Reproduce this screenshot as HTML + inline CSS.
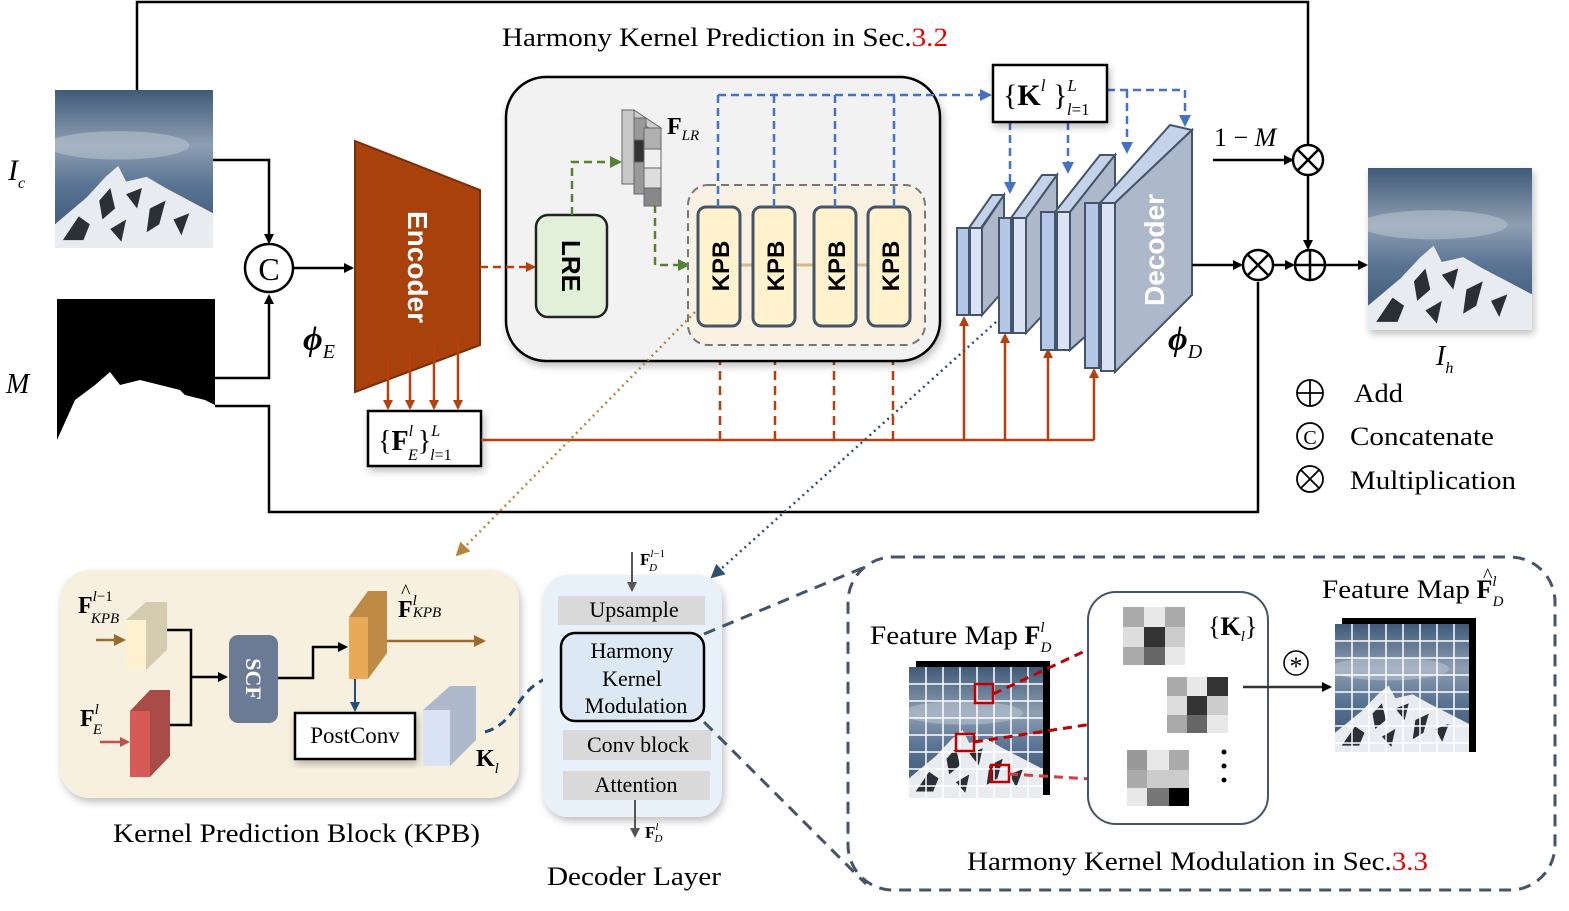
<!DOCTYPE html>
<html><head><meta charset="utf-8"><style>
html,body{margin:0;padding:0;background:#fff}
svg{display:block}
text{font-family:"Liberation Serif",serif;fill:#000}
.s{font-family:"Liberation Sans",sans-serif;font-weight:bold}
</style></head><body>
<svg width="1569" height="911" viewBox="0 0 1569 911" xmlns="http://www.w3.org/2000/svg">
<defs>
<marker id="ak" markerWidth="10" markerHeight="10" refX="8" refY="5" orient="auto" markerUnits="userSpaceOnUse"><path d="M0,0 L10,5 L0,10z" fill="#000"/></marker>
<marker id="ao" markerWidth="10" markerHeight="10" refX="8" refY="5" orient="auto" markerUnits="userSpaceOnUse"><path d="M0,0 L10,5 L0,10z" fill="#b5400b"/></marker>
<marker id="ab" markerWidth="12" markerHeight="12" refX="10" refY="6" orient="auto" markerUnits="userSpaceOnUse"><path d="M0,0 L12,6 L0,12z" fill="#4472c4"/></marker>
<marker id="ag" markerWidth="12" markerHeight="12" refX="10" refY="6" orient="auto" markerUnits="userSpaceOnUse"><path d="M0,0 L12,6 L0,12z" fill="#548235"/></marker>
<marker id="ar" markerWidth="12" markerHeight="12" refX="10" refY="6" orient="auto" markerUnits="userSpaceOnUse"><path d="M0,0 L12,6 L0,12z" fill="#c00000"/></marker>
<marker id="ad" markerWidth="14" markerHeight="14" refX="12" refY="7" orient="auto" markerUnits="userSpaceOnUse"><path d="M0,0 L14,7 L0,14z" fill="#2f4f6f"/></marker>
<marker id="at" markerWidth="14" markerHeight="14" refX="12" refY="7" orient="auto" markerUnits="userSpaceOnUse"><path d="M0,0 L14,7 L0,14z" fill="#b8863b"/></marker>
<marker id="an" markerWidth="12" markerHeight="12" refX="10" refY="6" orient="auto" markerUnits="userSpaceOnUse"><path d="M0,0 L12,6 L0,12z" fill="#9c6b2c"/></marker>
<marker id="aw" markerWidth="10" markerHeight="10" refX="8" refY="5" orient="auto" markerUnits="userSpaceOnUse"><path d="M0,0 L10,5 L0,10z" fill="#c0504d"/></marker>
<marker id="al" markerWidth="10" markerHeight="10" refX="8" refY="5" orient="auto" markerUnits="userSpaceOnUse"><path d="M0,0 L10,5 L0,10z" fill="#1f4e79"/></marker>
<marker id="as" markerWidth="10" markerHeight="10" refX="8" refY="5" orient="auto" markerUnits="userSpaceOnUse"><path d="M0,0 L10,5 L0,10z" fill="#555"/></marker>
<linearGradient id="sky" x1="0" y1="0" x2="0" y2="1"><stop offset="0" stop-color="#3f5a78"/><stop offset=".35" stop-color="#8e9fb2"/><stop offset=".6" stop-color="#5a7493"/><stop offset="1" stop-color="#34506f"/></linearGradient>
<symbol id="photo" viewBox="0 0 100 100" preserveAspectRatio="none">
<rect width="100" height="100" fill="url(#sky)"/>
<ellipse cx="40" cy="35" rx="45" ry="9" fill="#b5c1cd" opacity=".6"/>
<path d="M0,100 L0,85 L20,68 L32,55 L40,48 L45,58 L58,55 L70,62 L85,70 L100,78 L100,100z" fill="#e8ecf0"/>
<path d="M5,95 L15,80 L22,85 L18,95z M28,70 L35,62 L38,75 L30,82z M45,66 L55,62 L52,75z M60,75 L70,70 L66,85 L58,90z M75,82 L85,78 L80,92z M35,88 L45,82 L42,96z" fill="#2b2f36"/>
</symbol>
<filter id="sh" x="-10%" y="-10%" width="120%" height="130%"><feDropShadow dx="2" dy="4" stdDeviation="4" flood-color="#000" flood-opacity=".25"/></filter>
</defs>

<polyline points="137,90 137,2 1308,2 1308,145" fill="none" stroke="#000" stroke-width="2.5"/>
<text x="502" y="46" font-size="26" textLength="446" lengthAdjust="spacingAndGlyphs">Harmony Kernel Prediction in Sec.<tspan fill="#e00">3.2</tspan></text>

<use href="#photo" x="55" y="90" width="158" height="158"/>
<rect x="57" y="299" width="158" height="157" fill="#000"/>
<path d="M57,440 L75,400 L95,385 L110,372 L120,385 L140,380 L160,385 L180,390 L185,395 L205,400 L215,405 L215,456 L57,456z" fill="#fff"/>
<text x="8" y="180" font-size="30" font-style="italic">I<tspan font-size="16" dy="8">c</tspan></text>
<text x="6" y="393" font-size="28" font-style="italic">M</text>

<polyline points="213,160 269,160 269,242" fill="none" stroke="#000" stroke-width="2.5" marker-end="url(#ak)"/>
<polyline points="215,378 269,378 269,296" fill="none" stroke="#000" stroke-width="2.5" marker-end="url(#ak)"/>
<polyline points="215,406 269,406 269,512 1258,512 1258,282" fill="none" stroke="#000" stroke-width="2.5"/>
<circle cx="269" cy="268" r="24" fill="#fff" stroke="#000" stroke-width="2.5"/>
<text x="269" y="280" font-size="32" text-anchor="middle">C</text>
<line x1="293" y1="268" x2="352" y2="268" stroke="#000" stroke-width="2.5" marker-end="url(#ak)"/>

<polygon points="355,141 480,190 480,345 355,392" fill="#a9410d" stroke="#7a2e08" stroke-width="2"/>
<text class="s" transform="translate(408,267) rotate(90)" font-size="28" text-anchor="middle" style="fill:#fff">Encoder</text>
<text x="303" y="350" font-size="34" font-style="italic" font-weight="bold">ϕ<tspan font-size="20" font-weight="normal" dy="8">E</tspan></text>
<g stroke="#b5400b" stroke-width="2.5" marker-end="url(#ao)">
<line x1="388" y1="360" x2="388" y2="408"/><line x1="410" y1="352" x2="410" y2="408"/><line x1="434" y1="345" x2="434" y2="408"/><line x1="458" y1="340" x2="458" y2="408"/>
</g>
<rect x="368" y="411" width="113" height="55" fill="#fff" stroke="#000" stroke-width="2.5" filter="url(#sh)"/>
<text x="378" y="450" font-size="28">{<tspan font-weight="bold">F</tspan><tspan font-size="16" font-style="italic" dy="-14">l</tspan><tspan font-size="16" font-style="italic" dx="-5" dy="24">E</tspan><tspan dy="-10">}</tspan><tspan font-size="16" font-style="italic" dy="-14">L</tspan><tspan font-size="16" font-style="italic" dx="-10" dy="24">l</tspan><tspan font-size="16" dy="0">=1</tspan></text>

<polyline points="481,440 1094,440" fill="none" stroke="#b5400b" stroke-width="2.5"/>
<g stroke="#b5400b" stroke-width="2.5" stroke-dasharray="9,6" marker-end="url(#ao)">
<line x1="720" y1="440" x2="720" y2="330"/><line x1="775" y1="440" x2="775" y2="330"/><line x1="834" y1="440" x2="834" y2="330"/><line x1="893" y1="440" x2="893" y2="330"/>
</g>
<g stroke="#b5400b" stroke-width="2.5" marker-end="url(#ao)">
<line x1="964" y1="440" x2="964" y2="318"/><line x1="1005" y1="440" x2="1005" y2="335"/><line x1="1048" y1="440" x2="1048" y2="350"/><line x1="1094" y1="440" x2="1094" y2="370"/>
</g>

<rect x="506" y="77" width="434" height="284" rx="40" fill="#f2f2f2" stroke="#000" stroke-width="2.5" filter="url(#sh)"/>
<line x1="480" y1="267" x2="534" y2="267" stroke="#b5400b" stroke-width="2.5" stroke-dasharray="8,5" marker-end="url(#ao)"/>
<rect x="536" y="215" width="71" height="102" rx="12" fill="#e2f0d9" stroke="#222" stroke-width="2.5"/>
<text class="s" transform="translate(562,266) rotate(90)" font-size="26" text-anchor="middle">LRE</text>
<polyline points="572,215 572,162 620,162" fill="none" stroke="#548235" stroke-width="2.5" stroke-dasharray="8,5" marker-end="url(#ag)"/>
<polyline points="655,205 655,265 688,265" fill="none" stroke="#548235" stroke-width="2.5" stroke-dasharray="8,5" marker-end="url(#ag)"/>
<polygon points="622,110 634,110 661,128 649,128" fill="#ccc" stroke="#666"/>
<g stroke="#666" stroke-width="1">
<rect x="622" y="110" width="12" height="74" fill="#c8c8c8"/>
<rect x="634" y="118" width="12" height="76" fill="#999"/>
<rect x="634" y="140" width="12" height="22" fill="#333"/>
<rect x="644" y="128" width="17" height="21" fill="#b0b0b0"/>
<rect x="644" y="149" width="17" height="19" fill="#f0f0f0"/>
<rect x="644" y="168" width="17" height="20" fill="#ddd"/>
<rect x="644" y="188" width="17" height="18" fill="#888"/>
</g>
<text x="667" y="134" font-size="24" font-weight="bold">F<tspan font-size="15" font-style="italic" font-weight="normal" dy="6">LR</tspan></text>

<rect x="688" y="185" width="237" height="160" rx="20" fill="#f8f1e1" stroke="#777" stroke-width="2" stroke-dasharray="8,5"/>
<line x1="740" y1="265" x2="868" y2="265" stroke="#d6b88a" stroke-width="3"/>
<g fill="#fff2cc" stroke="#44546a" stroke-width="3">
<rect x="698" y="207" width="42" height="119" rx="8"/><rect x="753" y="207" width="42" height="119" rx="8"/><rect x="814" y="207" width="42" height="119" rx="8"/><rect x="868" y="207" width="42" height="119" rx="8"/>
</g>
<g font-size="24">
<text transform="translate(729,266) rotate(-90)" text-anchor="middle" class="s">KPB</text>
<text transform="translate(784,266) rotate(-90)" text-anchor="middle" class="s">KPB</text>
<text transform="translate(845,266) rotate(-90)" text-anchor="middle" class="s">KPB</text>
<text transform="translate(899,266) rotate(-90)" text-anchor="middle" class="s">KPB</text>
</g>
<g stroke="#4472c4" stroke-width="2.5" stroke-dasharray="8,5" fill="none">
<line x1="718" y1="207" x2="718" y2="95"/><line x1="774" y1="207" x2="774" y2="95"/><line x1="835" y1="207" x2="835" y2="95"/><line x1="894" y1="207" x2="894" y2="95"/>
<line x1="718" y1="95" x2="990" y2="95" marker-end="url(#ab)"/>
<line x1="1010" y1="122" x2="1010" y2="192" marker-end="url(#ab)"/>
<line x1="1068" y1="122" x2="1068" y2="172" marker-end="url(#ab)"/>
<polyline points="1107,90 1185,90 1185,125" marker-end="url(#ab)"/>
<line x1="1127" y1="90" x2="1127" y2="152" marker-end="url(#ab)"/>
</g>
<rect x="993" y="65" width="114" height="57" fill="#fff" stroke="#000" stroke-width="2.5" filter="url(#sh)"/>
<text x="1003" y="105" font-size="30">{<tspan font-weight="bold">K</tspan><tspan font-size="17" font-style="italic" dy="-14">l</tspan><tspan dy="14"> }</tspan><tspan font-size="17" font-style="italic" dy="-14">L</tspan><tspan font-size="17" font-style="italic" dx="-10" dy="24">l</tspan><tspan font-size="17">=1</tspan></text>

<g stroke="#44546a" stroke-width="2">
<polygon points="957,228 969,228 992,195 1004,195 981,228" fill="#c5d3ea"/>
<rect x="957" y="228" width="12" height="87" fill="#b4c7e7"/>
<rect x="970" y="228" width="12" height="87" fill="#dae3f3"/>
<polygon points="982,228 1004,195 1004,290 982,315" fill="#adb9ca"/>

<polygon points="999,218 1011,218 1042,175 1057,175 1026,218" fill="#c5d3ea"/>
<polygon points="1026,218 1057,175 1057,300 1026,333" fill="#adb9ca"/>
<rect x="999" y="218" width="12" height="115" fill="#b4c7e7"/>
<rect x="1013" y="218" width="13" height="115" fill="#dae3f3"/>

<polygon points="1041,212 1055,212 1100,155 1115,155 1070,212" fill="#c5d3ea"/>
<polygon points="1070,212 1115,155 1115,310 1070,350" fill="#adb9ca"/>
<rect x="1041" y="212" width="14" height="138" fill="#b4c7e7"/>
<rect x="1057" y="212" width="13" height="138" fill="#dae3f3"/>

<polygon points="1085,203 1100,203 1170,125 1192,130 1115,203" fill="#c5d3ea"/>
<polygon points="1115,203 1192,130 1192,295 1115,372" fill="#adb9ca"/>
<rect x="1085" y="203" width="14" height="165" fill="#b4c7e7"/>
<rect x="1101" y="203" width="14" height="168" fill="#dae3f3"/>
</g>
<text transform="translate(1164,250) rotate(-90)" font-size="28" text-anchor="middle" class="s" style="fill:#fff">Decoder</text>
<text x="1168" y="350" font-size="34" font-style="italic" font-weight="bold">ϕ<tspan font-size="20" font-weight="normal" dy="8">D</tspan></text>

<line x1="1192" y1="265" x2="1241" y2="265" stroke="#000" stroke-width="2.5" marker-end="url(#ak)"/>
<line x1="1273" y1="265" x2="1293" y2="265" stroke="#000" stroke-width="2.5" marker-end="url(#ak)"/>
<line x1="1213" y1="160" x2="1292" y2="160" stroke="#000" stroke-width="2.5" marker-end="url(#ak)"/>
<line x1="1308" y1="175" x2="1308" y2="248" stroke="#000" stroke-width="2.5" marker-end="url(#ak)"/>
<line x1="1325" y1="265" x2="1366" y2="265" stroke="#000" stroke-width="2.5" marker-end="url(#ak)"/>
<g fill="#fff" stroke="#000" stroke-width="2.5">
<circle cx="1258" cy="265" r="15"/><circle cx="1308" cy="160" r="15"/><circle cx="1310" cy="265" r="15"/>
</g>
<g stroke="#000" stroke-width="2.5">
<line x1="1247" y1="254" x2="1269" y2="276"/><line x1="1269" y1="254" x2="1247" y2="276"/>
<line x1="1297" y1="149" x2="1319" y2="171"/><line x1="1319" y1="149" x2="1297" y2="171"/>
<line x1="1295" y1="265" x2="1325" y2="265"/><line x1="1310" y1="250" x2="1310" y2="280"/>
</g>
<text x="1214" y="146" font-size="26">1 − <tspan font-style="italic">M</tspan></text>
<use href="#photo" x="1368" y="168" width="164" height="162" filter="url(#sh)"/>
<text x="1436" y="365" font-size="28" font-style="italic">I<tspan font-size="16" dy="8">h</tspan></text>

<g fill="none" stroke="#000" stroke-width="1.8">
<circle cx="1310" cy="393" r="13"/><line x1="1297" y1="393" x2="1323" y2="393"/><line x1="1310" y1="380" x2="1310" y2="406"/>
<circle cx="1310" cy="436" r="13"/>
<circle cx="1310" cy="479" r="13"/><line x1="1301" y1="470" x2="1319" y2="488"/><line x1="1319" y1="470" x2="1301" y2="488"/>
</g>
<text x="1310" y="444" font-size="20" text-anchor="middle">C</text>
<text x="1354" y="402" font-size="26" textLength="49" lengthAdjust="spacingAndGlyphs">Add</text>
<text x="1350" y="445" font-size="26" textLength="144" lengthAdjust="spacingAndGlyphs">Concatenate</text>
<text x="1350" y="489" font-size="26" textLength="166" lengthAdjust="spacingAndGlyphs">Multiplication</text>

<line x1="695" y1="312" x2="457" y2="555" stroke="#b8863b" stroke-width="2.5" stroke-dasharray="2,4" marker-end="url(#at)"/>
<line x1="996" y1="322" x2="712" y2="577" stroke="#2f4f6f" stroke-width="2.5" stroke-dasharray="2,4" marker-end="url(#ad)"/>

<rect x="60" y="570" width="459" height="228" rx="30" fill="#f7f0de" filter="url(#sh)"/>
<text x="78" y="613" font-size="24" font-weight="bold">F<tspan font-size="15" font-style="italic" font-weight="normal" dy="-12">l</tspan><tspan font-size="15" font-weight="normal">−1</tspan><tspan font-size="15" font-style="italic" font-weight="normal" dx="-22" dy="22">KPB</tspan></text>
<text x="80" y="726" font-size="24" font-weight="bold">F<tspan font-size="15" font-style="italic" font-weight="normal" dy="-12">l</tspan><tspan font-size="15" font-style="italic" font-weight="normal" dx="-6" dy="20">E</tspan></text>
<line x1="96" y1="640" x2="124" y2="640" stroke="#9c6b2c" stroke-width="2.5" marker-end="url(#an)"/>
<line x1="100" y1="742" x2="128" y2="742" stroke="#c0504d" stroke-width="2.5" marker-end="url(#aw)"/>
<polygon points="126,620 146,602 167,602 167,650 146,670 126,670" fill="#d5ccb0"/>
<rect x="126" y="620" width="20" height="50" fill="#fdf1d0"/>
<polygon points="130,711 150,690 170,690 170,756 150,777 130,777" fill="#a94b46"/>
<rect x="130" y="711" width="20" height="66" fill="#d55a55"/>
<polyline points="167,630 191,630 191,725 170,725" fill="none" stroke="#000" stroke-width="2.5"/>
<line x1="191" y1="677" x2="226" y2="677" stroke="#000" stroke-width="2.5" marker-end="url(#ak)"/>
<rect x="229" y="635" width="49" height="88" rx="9" fill="#6b7a95"/>
<text transform="translate(246,679) rotate(90)" font-size="22" font-weight="bold" text-anchor="middle" style="fill:#fff">SCF</text>
<polyline points="278,678 313,678 313,647 346,647" fill="none" stroke="#000" stroke-width="2.5" marker-end="url(#ak)"/>
<polygon points="349,617 368,591 387,591 387,653 368,679 349,679" fill="#bf8a45"/>
<rect x="349" y="617" width="19" height="62" fill="#e9a956"/>
<line x1="387" y1="641" x2="484" y2="641" stroke="#9c6b2c" stroke-width="2.5" marker-end="url(#an)"/>
<text x="398" y="617" font-size="24" font-weight="bold">F<tspan font-size="15" font-style="italic" font-weight="normal" dy="-12">l</tspan><tspan font-size="15" font-style="italic" font-weight="normal" dx="-4" dy="12">KPB</tspan></text>
<text x="401" y="598" font-size="20">^</text>
<line x1="355" y1="679" x2="355" y2="710" stroke="#1f4e79" stroke-width="2" marker-end="url(#al)"/>
<rect x="295" y="713" width="120" height="46" fill="#fff" stroke="#000" stroke-width="2.5" filter="url(#sh)"/>
<text x="355" y="743" font-size="23" text-anchor="middle">PostConv</text>
<polygon points="423,710 450,686 476,686 476,740 450,766 423,766" fill="#adb9ca"/>
<rect x="423" y="710" width="27" height="56" fill="#dae3f3"/>
<text x="476" y="766" font-size="24" font-weight="bold">K<tspan font-size="15" font-style="italic" font-weight="normal" dy="7">l</tspan></text>
<text x="113" y="842" font-size="26" textLength="367" lengthAdjust="spacingAndGlyphs">Kernel Prediction Block (KPB)</text>
<path d="M485,732 C520,722 515,685 555,676" fill="none" stroke="#1f4e79" stroke-width="3" stroke-dasharray="9,6" marker-end="url(#al)"/>

<rect x="543" y="575" width="179" height="242" rx="25" fill="#e8f0fa" filter="url(#sh)"/>
<rect x="558" y="596" width="147" height="29" fill="#d9d9d9"/>
<text x="634" y="617" font-size="22" text-anchor="middle">Upsample</text>
<rect x="561" y="633" width="143" height="88" rx="14" fill="#dde8f5" stroke="#000" stroke-width="2.5"/>
<text x="632" y="658" font-size="22" text-anchor="middle">Harmony</text>
<text x="632" y="686" font-size="22" text-anchor="middle">Kernel</text>
<text x="636" y="713" font-size="22" text-anchor="middle">Modulation</text>
<rect x="563" y="730" width="148" height="30" fill="#d9d9d9"/>
<text x="638" y="752" font-size="22" text-anchor="middle">Conv block</text>
<rect x="563" y="771" width="147" height="29" fill="#d9d9d9"/>
<text x="636" y="792" font-size="22" text-anchor="middle">Attention</text>
<line x1="632" y1="552" x2="632" y2="590" stroke="#555" stroke-width="2" marker-end="url(#as)"/>
<line x1="635" y1="800" x2="635" y2="836" stroke="#555" stroke-width="2" marker-end="url(#as)"/>
<text x="640" y="565" font-size="17" font-weight="bold">F<tspan font-size="11" font-style="italic" font-weight="normal" dy="-8">l</tspan><tspan font-size="11" font-weight="normal">−1</tspan><tspan font-size="11" font-style="italic" font-weight="normal" dx="-16" dy="14">D</tspan></text>
<text x="645" y="838" font-size="17" font-weight="bold">F<tspan font-size="11" font-style="italic" font-weight="normal" dy="-8">l</tspan><tspan font-size="11" font-style="italic" font-weight="normal" dx="-4" dy="12">D</tspan></text>
<text x="547" y="885" font-size="26" textLength="174" lengthAdjust="spacingAndGlyphs">Decoder Layer</text>

<line x1="704" y1="634" x2="872" y2="564" stroke="#44546a" stroke-width="3" stroke-dasharray="12,8"/>
<line x1="704" y1="722" x2="866" y2="884" stroke="#44546a" stroke-width="3" stroke-dasharray="12,8"/>
<rect x="848" y="557" width="707" height="333" rx="45" fill="#fff" stroke="#44546a" stroke-width="3" stroke-dasharray="12,8"/>
<text x="870" y="644" font-size="26"><tspan textLength="148" lengthAdjust="spacingAndGlyphs">Feature Map</tspan> <tspan font-weight="bold">F</tspan><tspan font-size="15" font-style="italic" dy="-12">l</tspan><tspan font-size="15" font-style="italic" dx="-4" dy="20">D</tspan></text>
<rect x="916" y="661" width="134" height="134" fill="#000"/>
<use href="#photo" x="909" y="667" width="134" height="131"/>
<g stroke="#fff" stroke-width="1.5">
<line x1="926" y1="667" x2="926" y2="798"/><line x1="943" y1="667" x2="943" y2="798"/><line x1="960" y1="667" x2="960" y2="798"/><line x1="977" y1="667" x2="977" y2="798"/><line x1="994" y1="667" x2="994" y2="798"/><line x1="1011" y1="667" x2="1011" y2="798"/><line x1="1028" y1="667" x2="1028" y2="798"/>
<line x1="909" y1="684" x2="1043" y2="684"/><line x1="909" y1="701" x2="1043" y2="701"/><line x1="909" y1="718" x2="1043" y2="718"/><line x1="909" y1="735" x2="1043" y2="735"/><line x1="909" y1="752" x2="1043" y2="752"/><line x1="909" y1="769" x2="1043" y2="769"/><line x1="909" y1="786" x2="1043" y2="786"/>
</g>
<g fill="none" stroke="#c00000" stroke-width="2.5">
<rect x="975" y="684" width="18" height="19"/><rect x="956" y="734" width="18" height="17"/><rect x="991" y="765" width="18" height="17"/>
</g>
<g stroke="#c00000" stroke-width="3" stroke-dasharray="9,6" fill="none">
<line x1="993" y1="694" x2="1117" y2="636" marker-end="url(#ar)"/>
<line x1="974" y1="742" x2="1158" y2="714" marker-end="url(#ar)"/>
<line x1="1009" y1="774" x2="1124" y2="781" stroke="#d04040" marker-end="url(#ar)"/>
</g>
<rect x="1088" y="592" width="180" height="232" rx="28" fill="#fff" stroke="#44546a" stroke-width="2"/>
<text x="1208" y="635" font-size="26">{<tspan font-weight="bold">K</tspan><tspan font-size="15" font-style="italic" dy="6">l</tspan><tspan dy="-6">}</tspan></text>
<g>
<rect x="1123" y="607" width="21" height="20" fill="#aaa"/><rect x="1144" y="607" width="21" height="20" fill="#e8e8e8"/><rect x="1165" y="607" width="20" height="20" fill="#aaa"/>
<rect x="1123" y="627" width="21" height="20" fill="#ddd"/><rect x="1144" y="627" width="21" height="20" fill="#333"/><rect x="1165" y="627" width="20" height="20" fill="#ccc"/>
<rect x="1123" y="647" width="21" height="18" fill="#aaa"/><rect x="1144" y="647" width="21" height="18" fill="#666"/><rect x="1165" y="647" width="20" height="18" fill="#e8e8e8"/>
<rect x="1167" y="677" width="20" height="19" fill="#aaa"/><rect x="1187" y="677" width="20" height="19" fill="#e8e8e8"/><rect x="1207" y="677" width="21" height="19" fill="#333"/>
<rect x="1167" y="696" width="20" height="19" fill="#ddd"/><rect x="1187" y="696" width="20" height="19" fill="#333"/><rect x="1207" y="696" width="21" height="19" fill="#ccc"/>
<rect x="1167" y="715" width="20" height="18" fill="#aaa"/><rect x="1187" y="715" width="20" height="18" fill="#666"/><rect x="1207" y="715" width="21" height="18" fill="#e8e8e8"/>
<rect x="1127" y="750" width="20" height="20" fill="#999"/><rect x="1147" y="750" width="22" height="20" fill="#e8e8e8"/><rect x="1169" y="750" width="20" height="20" fill="#aaa"/>
<rect x="1127" y="770" width="20" height="18" fill="#aaa"/><rect x="1147" y="770" width="22" height="18" fill="#ccc"/><rect x="1169" y="770" width="20" height="18" fill="#ccc"/>
<rect x="1127" y="788" width="20" height="18" fill="#e8e8e8"/><rect x="1147" y="788" width="22" height="18" fill="#777"/><rect x="1169" y="788" width="20" height="18" fill="#000"/>
</g>
<g fill="#000"><circle cx="1224" cy="752" r="2.5"/><circle cx="1224" cy="766" r="2.5"/><circle cx="1224" cy="780" r="2.5"/></g>
<line x1="1243" y1="687" x2="1330" y2="687" stroke="#333" stroke-width="2.5" marker-end="url(#ak)"/>
<circle cx="1296" cy="663" r="12" fill="none" stroke="#000" stroke-width="1.5"/>
<text x="1296" y="675" font-size="26" text-anchor="middle">*</text>
<text x="1322" y="598" font-size="26"><tspan textLength="148" lengthAdjust="spacingAndGlyphs">Feature Map</tspan> <tspan font-weight="bold">F</tspan><tspan font-size="15" font-style="italic" dy="-12">l</tspan><tspan font-size="15" font-style="italic" dx="-4" dy="20">D</tspan></text>
<text x="1483" y="582" font-size="20">^</text>
<rect x="1342" y="618" width="134" height="134" fill="#000"/>
<use href="#photo" x="1335" y="624" width="134" height="128"/>
<g stroke="#fff" stroke-width="1.5">
<line x1="1352" y1="624" x2="1352" y2="752"/><line x1="1369" y1="624" x2="1369" y2="752"/><line x1="1386" y1="624" x2="1386" y2="752"/><line x1="1403" y1="624" x2="1403" y2="752"/><line x1="1420" y1="624" x2="1420" y2="752"/><line x1="1437" y1="624" x2="1437" y2="752"/><line x1="1454" y1="624" x2="1454" y2="752"/>
<line x1="1335" y1="641" x2="1469" y2="641"/><line x1="1335" y1="658" x2="1469" y2="658"/><line x1="1335" y1="675" x2="1469" y2="675"/><line x1="1335" y1="692" x2="1469" y2="692"/><line x1="1335" y1="709" x2="1469" y2="709"/><line x1="1335" y1="726" x2="1469" y2="726"/><line x1="1335" y1="743" x2="1469" y2="743"/>
</g>
<text x="967" y="870" font-size="26" textLength="461" lengthAdjust="spacingAndGlyphs">Harmony Kernel Modulation in Sec.<tspan fill="#e00">3.3</tspan></text>
</svg>
</body></html>
